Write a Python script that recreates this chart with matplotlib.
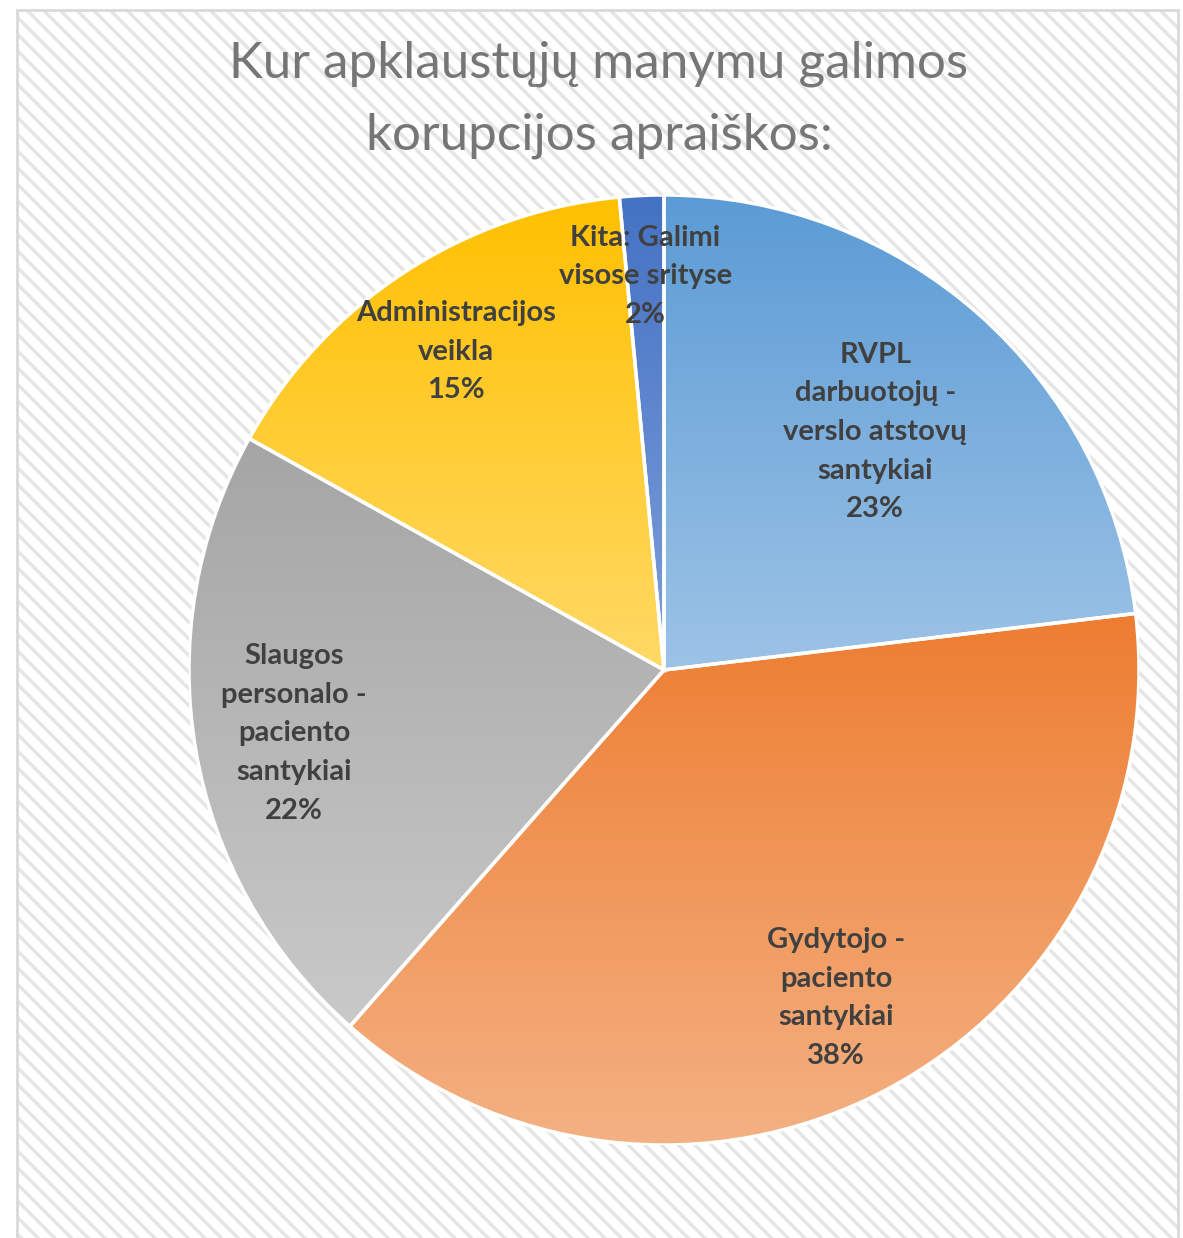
import matplotlib
matplotlib.use("Agg")
import matplotlib.pyplot as plt
from matplotlib.patches import Rectangle, Wedge
from matplotlib.colors import LinearSegmentedColormap
import numpy as np

# ---------------- data ----------------
title = "Kur apklaustųjų manymu galimos\nkorupcijos apraiškos:"
categories = [
    "RVPL\ndarbuotojų -\nverslo atstovų\nsantykiai",
    "Gydytojo -\npaciento\nsantykiai",
    "Slaugos\npersonalo -\npaciento\nsantykiai",
    "Administracijos\nveikla",
    "Kita: Galimi\nvisose srityse",
]
shares = [23.1, 38.4, 21.6, 15.4, 1.5]

# ---------------- style ----------------
top_colors = ["#5B9BD5", "#ED7D31", "#A5A5A5", "#FFC000", "#4472C4"]
bottom_colors = ["#9DC3E6", "#F4B183", "#C9C9C9", "#FFD966", "#7F9FDA"]
label_r = [0.67, 0.78, 0.79, 0.80, 0.83]

plt.rcParams["hatch.linewidth"] = 2.5

fig = plt.figure(figsize=(11.83, 12.38), dpi=100)

# hatched chart area + border
bg = Rectangle((17 / 1183, -0.01), (1178 - 17) / 1183, 1 - 10 / 1238 + 0.01,
               transform=fig.transFigure, facecolor="white", edgecolor="#E5E5E5",
               linewidth=0, hatch="\\\\", zorder=-2)
fig.patches.append(bg)
border = Rectangle((17 / 1183, -0.01), (1178 - 17) / 1183, 1 - 10 / 1238 + 0.01,
                   transform=fig.transFigure, fill=False, edgecolor="#D9D9D9",
                   linewidth=2, zorder=-1)
fig.patches.append(border)

fig.text(599 / 1183, 1 - 100 / 1238, title, ha="center", va="center",
         fontsize=36.8, color="#767676", family="Lato", linespacing=1.7)

R = 475
ax = fig.add_axes([(664 - R) / 1183, (1238 - 670 - R) / 1238, 2 * R / 1183, 2 * R / 1238])

wedges, _ = ax.pie(shares, startangle=90, counterclock=False, colors=top_colors,
                   wedgeprops=dict(linewidth=0))

grad = np.linspace(0, 1, 256).reshape(-1, 1)
for i, w in enumerate(wedges):
    ext = w.get_path().get_extents()
    cmap = LinearSegmentedColormap.from_list("g%d" % i, [top_colors[i], bottom_colors[i]])
    im = ax.imshow(grad, cmap=cmap, extent=[ext.x0, ext.x1, ext.y0, ext.y1],
                   aspect="auto", zorder=2, interpolation="bilinear")
    im.set_clip_path(w)
    edge = Wedge(w.center, w.r, w.theta1, w.theta2, fill=False,
                 edgecolor="white", linewidth=2.5, zorder=3)
    ax.add_patch(edge)

    mid = np.deg2rad((w.theta1 + w.theta2) / 2)
    x = label_r[i] * np.cos(mid)
    y = label_r[i] * np.sin(mid)
    ax.text(x, y, f"{categories[i]}\n{shares[i]:.0f}%", ha="center", va="center",
            fontsize=21, fontweight="bold", color="#404040", family="Lato",
            linespacing=1.6, zorder=5)

ax.set_xlim(-1, 1)
ax.set_ylim(-1, 1)
ax.set_aspect("equal")
ax.axis("off")

fig.savefig("out.png", dpi=100)
